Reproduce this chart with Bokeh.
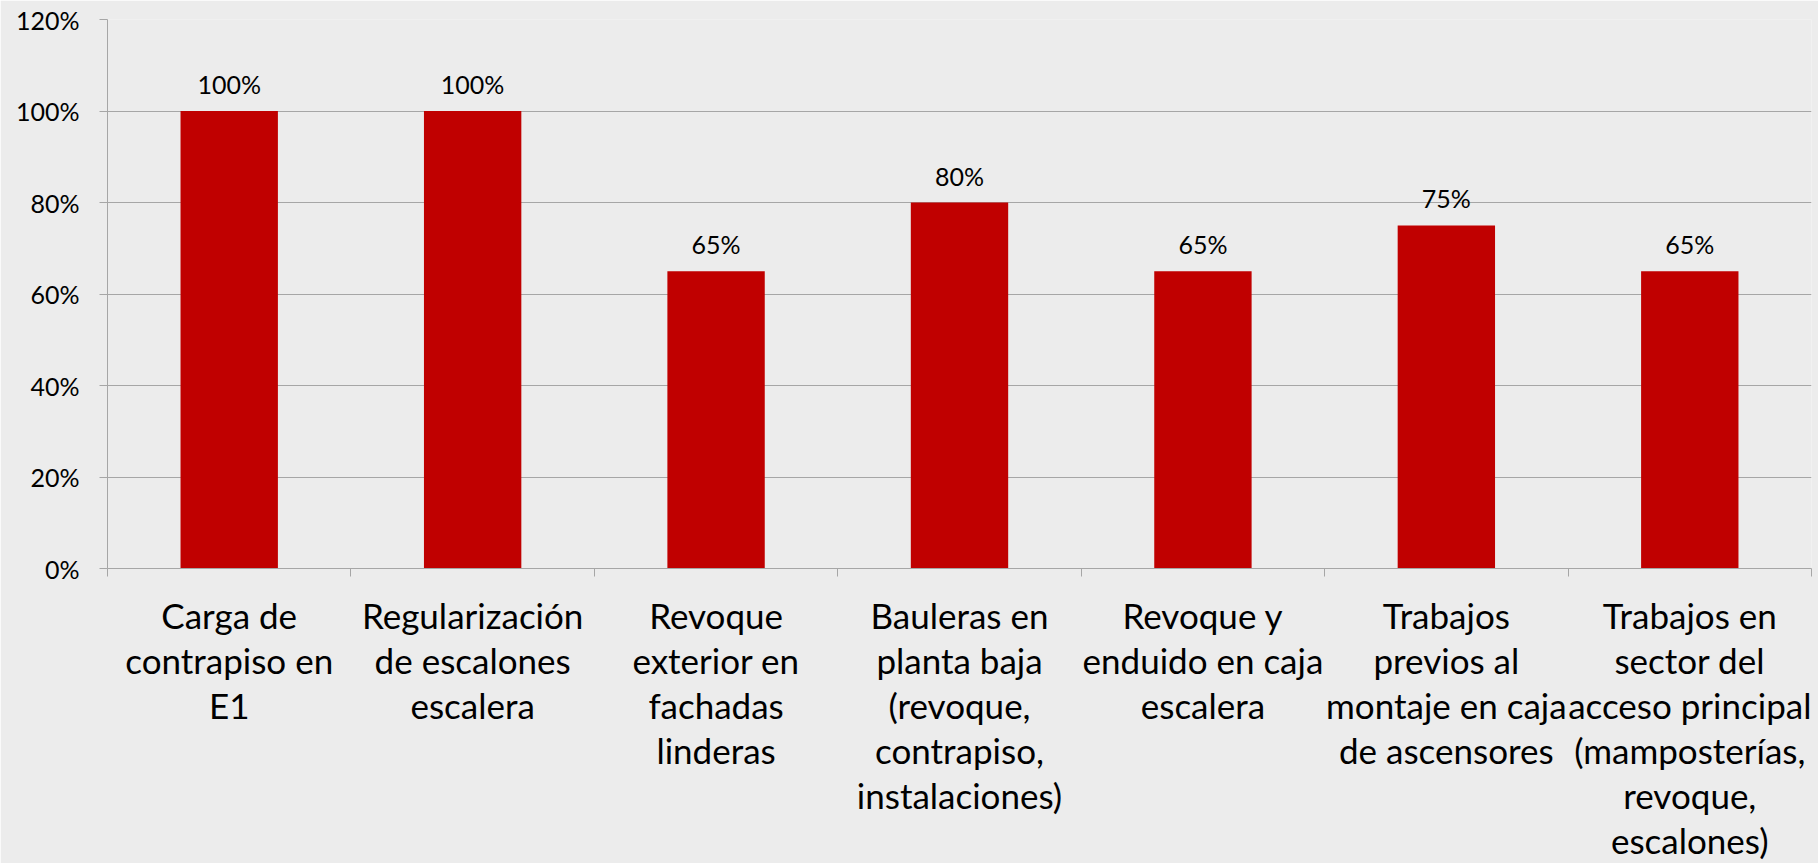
from bokeh.plotting import figure
from bokeh.models import FixedTicker, PrintfTickFormatter, Range1d, ColumnDataSource, LinearAxis
from bokeh.core.properties import value
from bokeh.embed import file_html
from bokeh.resources import INLINE

categories = [
    "Carga de\ncontrapiso en\nE1",
    "Regularización\nde escalones\nescalera",
    "Revoque\nexterior en\nfachadas\nlinderas",
    "Bauleras en\nplanta baja\n(revoque,\ncontrapiso,\ninstalaciones)",
    "Revoque y\nenduido en caja\nescalera",
    "Trabajos\nprevios al\nmontaje en caja\nde ascensores",
    "Trabajos en\nsector del\nacceso principal\n(mamposterías,\nrevoque,\nescalones)",
]
values = [100, 100, 65, 80, 65, 75, 65]
y_ticks = [0, 20, 40, 60, 80, 100, 120]

FONT = "Lato"
BG = "#ECECEC"
BAR = "#C00000"
GRID = "#A6A6A6"

n = len(categories)
centers = [i + 0.5 for i in range(n)]
src = ColumnDataSource(dict(x=centers, top=values, lbl=[f"{v}%" for v in values]))
split = [c.split("\n") for c in categories]
n_lines = max(len(s) for s in split)

p = figure(width=1818, height=863, output_backend="svg", toolbar_location=None,
           x_range=Range1d(0, n), y_range=Range1d(0, 120))
p.min_border_left = 107
p.min_border_right = 7
p.min_border_top = 19
p.min_border_bottom = 10
p.background_fill_color = BG
p.border_fill_color = BG
p.outline_line_color = None

p.vbar(x="x", top="top", width=0.4, source=src, color=BAR, line_color=None)
p.text(x="x", y="top", text="lbl", source=src, text_align="center", text_baseline="bottom",
       y_offset=-12, text_font_size="25px", text_color="#000000", text_font=value(FONT))

# y axis
p.yaxis.ticker = FixedTicker(ticks=y_ticks)
p.yaxis.formatter = PrintfTickFormatter(format="%d%%")
p.yaxis.axis_line_color = GRID
p.yaxis.major_tick_line_color = GRID
p.yaxis.major_tick_in = 0
p.yaxis.major_tick_out = 8
p.yaxis.minor_tick_line_color = None
p.yaxis.major_label_text_font = FONT
p.yaxis.major_label_text_font_size = "25px"
p.yaxis.major_label_text_color = "#000000"
p.yaxis.major_label_standoff = 20


def style_lines(ax, line_idx):
    ax.major_label_overrides = {
        c: (s[line_idx] if line_idx < len(s) else "") for c, s in zip(centers, split)
    }
    ax.major_label_text_font = FONT
    ax.major_label_text_font_size = "35px"
    ax.major_label_text_color = "#000000"
    ax.major_tick_line_color = None
    ax.major_tick_in = 0
    ax.major_tick_out = 0


# x axis: first line of every category label
p.xaxis.ticker = FixedTicker(ticks=centers, minor_ticks=list(range(n + 1)))
p.xaxis.axis_line_color = GRID
p.xaxis.minor_tick_line_color = GRID
p.xaxis.minor_tick_in = 0
p.xaxis.minor_tick_out = 8
style_lines(p.xaxis[0], 0)
p.xaxis[0].major_label_standoff = 17

# further lines of the category labels, one axis per line
for k in range(1, n_lines):
    ax = LinearAxis(ticker=FixedTicker(ticks=centers))
    style_lines(ax, k)
    ax.axis_line_color = None
    ax.minor_tick_line_color = None
    ax.minor_tick_out = 0
    ax.major_label_standoff = 0
    p.add_layout(ax, "below")

p.xgrid.grid_line_color = None
p.ygrid.grid_line_color = GRID
p.ygrid.grid_line_width = 1

html = file_html(p, INLINE)
html = html.replace("<body>", f'<body style="background:{BG};">', 1)
open("out.html", "w").write(html)
